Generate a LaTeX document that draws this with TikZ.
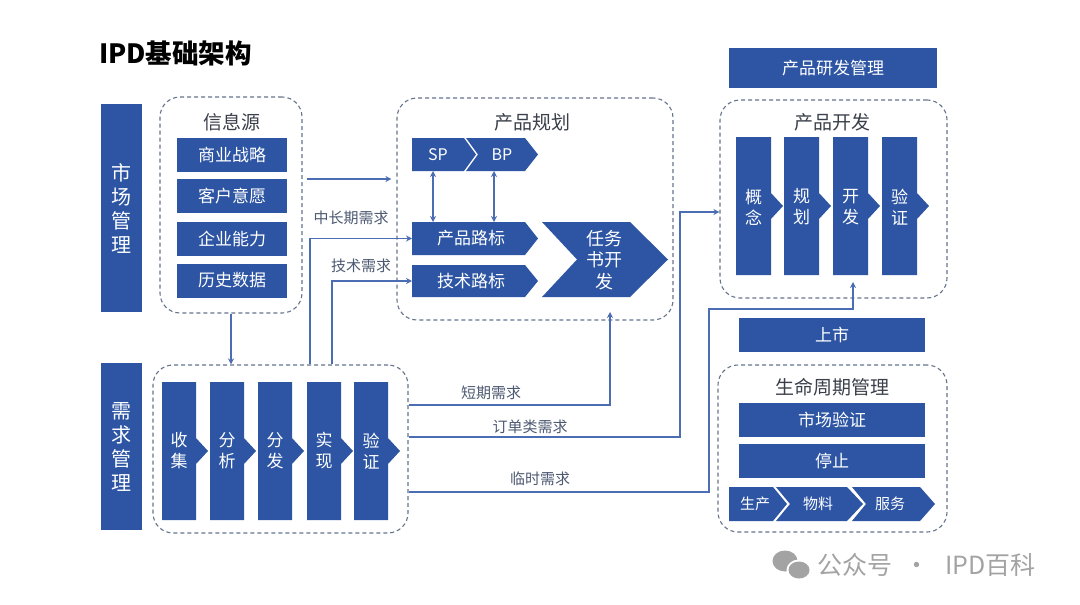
\documentclass[tikz,border=0pt]{standalone}
\usepackage{fontspec}
\setmainfont{Noto Sans CJK SC}
\usetikzlibrary{arrows.meta,calc}
\definecolor{bx}{HTML}{2D55A4}
\definecolor{ln}{HTML}{4A6DB3}
\definecolor{dsh}{HTML}{66748C}
\definecolor{wm}{HTML}{A3A3A3}
\definecolor{tt}{HTML}{3A3F4A}
\definecolor{lb}{HTML}{4D5A72}
\tikzset{
  blk/.style={fill=bx, draw=none, text=white, inner sep=0pt, font=\fontsize{17}{20}\selectfont},
  grp/.style={draw=dsh, dash pattern=on 4pt off 3pt, line width=1.1pt, rounded corners=20pt, inner sep=0pt},
  ttl/.style={font=\fontsize{19}{22}\selectfont, text=tt, inner sep=0pt},
  wt/.style={text=white, align=center, inner sep=0pt, font=\fontsize{17}{21}\selectfont},
  conn/.style={draw=ln, line width=1.6pt, -{Stealth[length=6pt,width=6pt]}},
  conn2/.style={draw=ln, line width=1.6pt, {Stealth[length=6pt,width=6pt]}-{Stealth[length=6pt,width=6pt]}},
  lbl/.style={font=\fontsize{15}{18}\selectfont, text=lb, inner sep=0pt}
}
% column with small point: name, left, top, bottom, width
\newcommand\mycol[5]{%
  \fill[bx] (#2,#3) -- ({#2+#5},#3) -- ({#2+#5},{(#3+#4)/2-13}) -- ({#2+#5+12},{(#3+#4)/2}) -- ({#2+#5},{(#3+#4)/2+13}) -- ({#2+#5},#4) -- (#2,#4) -- cycle;
  \coordinate (#1) at ({#2+#5/2},{(#3+#4)/2});
}
% chevron: name, left, right, tip, top, bottom, notch
\newcommand\mychev[7]{%
  \fill[bx] (#2,#5) -- (#3,#5) -- (#4,{(#5+#6)/2}) -- (#3,#6) -- (#2,#6) -- ({#2+#7},{(#5+#6)/2}) -- cycle;
  \coordinate (#1-w) at (#2,{(#5+#6)/2});
}
\begin{document}
\begin{tikzpicture}[x=1pt,y=-1pt]
\useasboundingbox[fill=white] (0,0) rectangle (1080,605);

% title
\node[anchor=west, font=\fontsize{26.5}{30}\selectfont\bfseries, inner sep=0pt] (title) at (99,53) {IPD基础架构};

% side bars
\node[blk, minimum width=41pt, minimum height=208pt, align=center, font=\fontsize{20}{24}\selectfont] (scgl) at (121.5,208) {市\\场\\管\\理};
\node[blk, minimum width=41pt, minimum height=167pt, align=center, font=\fontsize{20}{24}\selectfont] (xqgl) at (121.5,446.5) {需\\求\\管\\理};

% 信息源
\node[grp, minimum width=142pt, minimum height=216pt] (xinxi) at (231,205) {};
\node[ttl] (xinxiT) at (232,122) {信息源};
\node[blk, minimum width=110pt, minimum height=34pt] (b1) at (232,155) {商业战略};
\node[blk, minimum width=110pt, minimum height=34pt] (b2) at (232,196) {客户意愿};
\node[blk, minimum width=110pt, minimum height=34pt] (b3) at (232,239) {企业能力};
\node[blk, minimum width=110pt, minimum height=34pt] (b4) at (232,280.5) {历史数据};

% 需求管理 group
\node[grp, minimum width=255pt, minimum height=168pt] (xuqiu) at (280.5,449) {};
\mycol{c1}{162}{382}{520}{34}
\mycol{c2}{210}{382}{520}{34}
\mycol{c3}{258}{382}{520}{34}
\mycol{c4}{307}{382}{520}{34}
\mycol{c5}{354}{382}{520}{34}
\node[wt] (c1t) at (c1) {收\\集};
\node[wt] (c2t) at (c2) {分\\析};
\node[wt] (c3t) at (c3) {分\\发};
\node[wt] (c4t) at (c4) {实\\现};
\node[wt] (c5t) at (c5) {验\\证};

% 产品规划
\node[grp, minimum width=276pt, minimum height=222pt] (guihua) at (535,209) {};
\node[ttl] (guihuaT) at (532,122) {产品规划};
\mychev{sp}{412}{464}{476}{138}{171}{0}
\mychev{bp}{466}{525}{538}{138}{171}{12}
\node[wt, font=\fontsize{16}{18}\selectfont] (spt) at (438,155) {SP};
\node[wt, font=\fontsize{16}{18}\selectfont] (bpt) at (502,155) {BP};
\mychev{cplb}{412}{525}{538}{222}{255}{0}
\mychev{jslb}{412}{525}{538}{265}{297}{0}
\node[wt] (cplbt) at (471,238.5) {产品路标};
\node[wt] (jslbt) at (471,281) {技术路标};
\mychev{rws}{542}{630}{668}{222}{297}{35}
\node[wt, font=\fontsize{18}{21.5}\selectfont] (rwst) at (604,260) {任务\\书开\\发};
\coordinate (sp-s) at (433,171);
\coordinate (cplb-n1) at (433,222);
\coordinate (bp-s) at (494,171);
\coordinate (cplb-n2) at (494,222);
\draw[conn2] (sp-s) -- (cplb-n1);
\draw[conn2] (bp-s) -- (cplb-n2);

% 产品研发管理
\node[blk, minimum width=208pt, minimum height=40pt] (yfgl) at (833,68) {产品研发管理};
\node[grp, minimum width=227pt, minimum height=198pt] (kaifa) at (833.5,199) {};
\node[ttl] (kaifaT) at (832,122) {产品开发};
\mycol{k1}{736}{137}{275}{35}
\mycol{k2}{784}{137}{275}{35}
\mycol{k3}{833}{137}{275}{35}
\mycol{k4}{882}{137}{275}{35}
\node[wt] (k1t) at ($(k1)+(0,1)$) {概\\念};
\node[wt] (k2t) at ($(k2)+(0,1)$) {规\\划};
\node[wt] (k3t) at ($(k3)+(0,1)$) {开\\发};
\node[wt] (k4t) at ($(k4)+(0,1)$) {验\\证};

% 上市 & 生命周期
\node[blk, minimum width=186pt, minimum height=34pt] (ss) at (832,335) {上市};
\node[grp, minimum width=229pt, minimum height=167pt] (smzq) at (832.5,448.5) {};
\node[ttl] (smzqT) at (832,387) {生命周期管理};
\node[blk, minimum width=186pt, minimum height=34pt] (scyz) at (832,420) {市场验证};
\node[blk, minimum width=186pt, minimum height=34pt] (tz) at (832,460.5) {停止};
\mychev{sc}{729}{773}{787}{487}{521}{0}
\mychev{wl}{776}{847}{863}{487}{521}{14}
\mychev{fw}{852}{920}{935}{487}{521}{14}
\node[wt, font=\fontsize{15}{18}\selectfont] (sct) at (755,504) {生产};
\node[wt, font=\fontsize{15}{18}\selectfont] (wlt) at (818,504) {物料};
\node[wt, font=\fontsize{15}{18}\selectfont] (fwt) at (890,504) {服务};

% connectors
\draw[conn, shorten <=4pt, shorten >=5pt] (xinxi.east |- 0,179) -- (guihua.west |- 0,179);
\draw[conn] (xinxi.south) -- (xinxi.south |- xuqiu.north);
\draw[conn] (xuqiu.north -| 310,0) |- (cplb-w);
\draw[conn] (xuqiu.north -| 332,0) |- (jslb-w);
\coordinate (rws-s) at (610,312);
\draw[conn] (xuqiu.east |- 0,405) -| (rws-s);
\coordinate (dd1) at (680,437);
\draw[conn] (xuqiu.east |- 0,437) -- (dd1) |- (kaifa.west |- 0,212);
\coordinate (ls1) at (709,309);
\coordinate (ls2) at (853,282);
\draw[conn] (xuqiu.east |- 0,492) -| (ls1) -| (ls2);

% labels
\node[lbl] (l1) at (351,218) {中长期需求};
\node[lbl] (l2) at (361,266) {技术需求};
\node[lbl] (l3) at (491,393) {短期需求};
\node[lbl] (l4) at (530,427) {订单类需求};
\node[lbl] (l5) at (540,479) {临时需求};

% watermark
\fill[wm] (785,561) ellipse (12.5 and 10.5);
\fill[white] (799,570) ellipse (12.5 and 10.5);
\fill[wm] (799,570) ellipse (10.5 and 8.5);
\node[anchor=west, text=wm, font=\fontsize{25}{27}\selectfont, inner sep=0pt] (wmk) at (817,565) {公众号\hspace{12pt}·\hspace{16pt}IPD百科};
\end{tikzpicture}
\end{document}
